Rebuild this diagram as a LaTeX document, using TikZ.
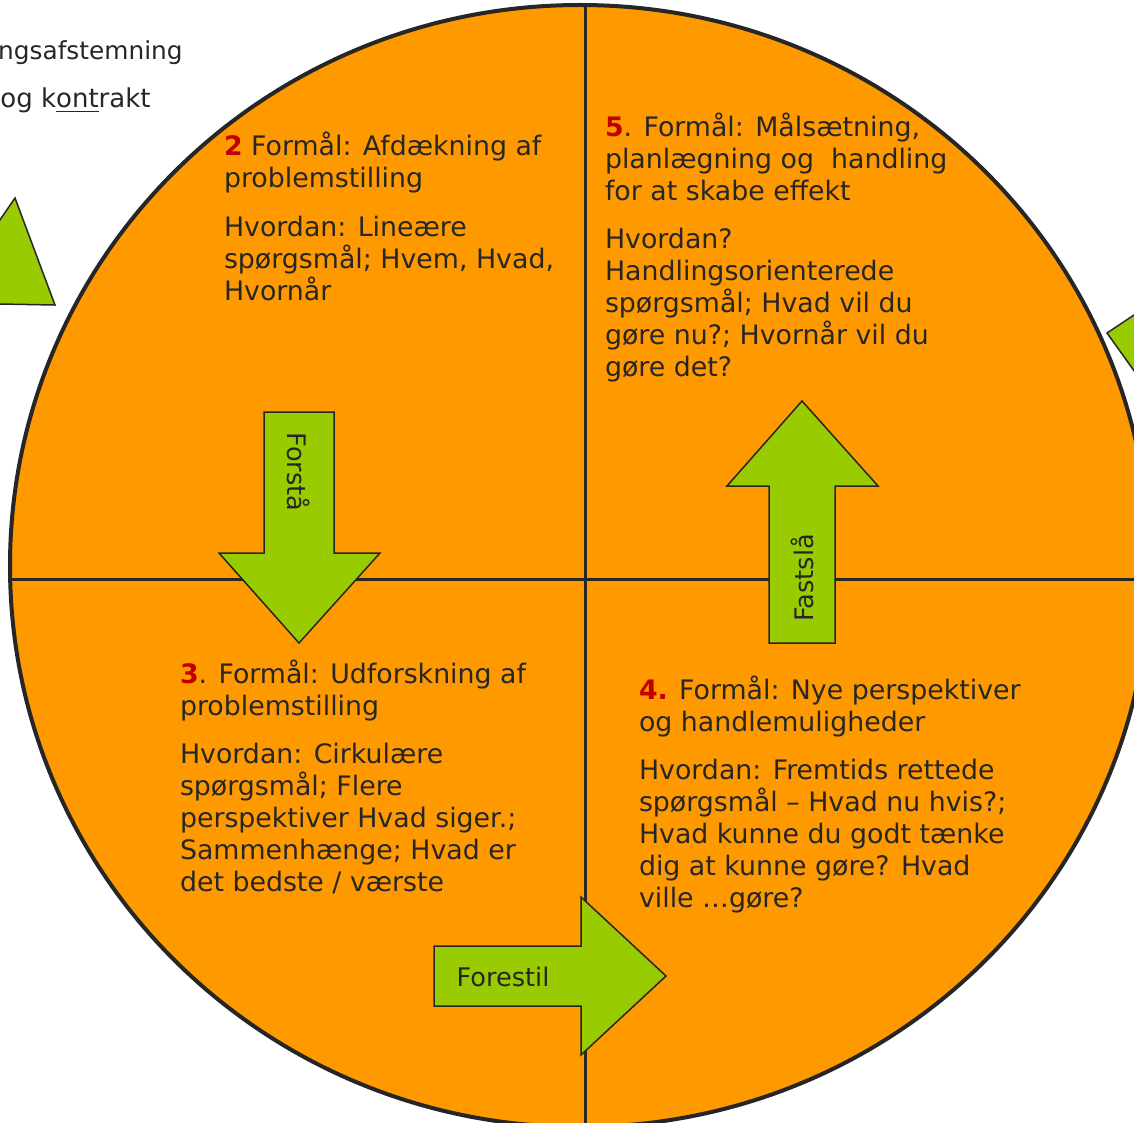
\documentclass[tikz,border=0pt]{standalone}
\usepackage{fontspec}
\setmainfont{DejaVu Sans}
\usetikzlibrary{positioning}
\definecolor{circorange}{HTML}{FF9900}
\definecolor{arrowgreen}{HTML}{99CC00}
\definecolor{numred}{HTML}{C00000}
\definecolor{inkgray}{HTML}{262626}
\newcommand{\stepnum}[1]{{\bfseries\color{numred}#1}}

\begin{document}
\begin{tikzpicture}[x=0.5pt,y=-0.5pt,
	txt/.style={font=\fontsize{13.4}{16}\selectfont,text=inkgray,align=left,anchor=base west,inner sep=0pt,outer sep=0pt},
	lbl/.style={font=\fontsize{12.8}{15}\selectfont,text=inkgray,inner sep=0pt,outer sep=0pt},
	blockarrow/.style={draw=inkgray,fill=arrowgreen,line width=0.75pt,line join=miter}]
	\useasboundingbox (0,0) rectangle (1134,1123);
	\clip (0,0) rectangle (1134,1123);

	\coordinate (ctr) at (580,566);
	\fill[circorange] (ctr) ellipse [x radius=570, y radius=561];
	\begin{scope}
		\clip (ctr) ellipse [x radius=570, y radius=561];
		\draw[line width=1.5pt,draw=inkgray] (0,579) -- (1134,579);
		\draw[line width=1.5pt,draw=inkgray] (585,0) -- (585,1123);
	\end{scope}
	\draw[line width=2pt,draw=inkgray] (ctr) ellipse [x radius=570, y radius=561];

	\node[font=\fontsize{12.4}{15}\selectfont,text=inkgray,anchor=base east,inner sep=0pt] (agree) at (183,60) {ngsafstemning};
	\node[font=\fontsize{13}{15}\selectfont,text=inkgray,anchor=base east,inner sep=0pt] (contract) at (151,108) {og k\underline{ont}rakt};

	\draw[blockarrow] (15,198) -- (55,305) -- (-57,303) -- cycle;
	\draw[blockarrow] (1107,333) -- (1200,271) -- (1200,463) -- cycle;

	\draw[blockarrow] (264,412) -- (334,412) -- (334,553) -- (380,553) -- (299,643) -- (219,553) -- (264,553) -- cycle;
	\node[lbl,rotate=-90] (forstaa) at (299,472) {Forstå};

	\draw[blockarrow] (769,643) -- (769,486) -- (727,486) -- (802,401) -- (878,486) -- (835,486) -- (835,643) -- cycle;
	\node[lbl,rotate=90] (fastslaa) at (802,578) {Fastslå};

	\draw[blockarrow] (434,946) -- (581,946) -- (581,897) -- (666,976) -- (581,1055) -- (581,1006) -- (434,1006) -- cycle;
	\node[lbl] (forestil) at (503,977) {Forestil};

	\node[txt] (blk2) at (224,300) {\stepnum{2} Formål: Afdækning af\\ problemstilling\\[8.5pt] Hvordan: Lineære\\ spørgsmål; Hvem, Hvad,\\ Hvornår};
	\node[txt] (blk5) at (605,376) {\stepnum{5}. Formål: Målsætning,\\ planlægning og\ \ handling\\ for at skabe effekt\\[8pt] Hvordan?\\ Handlingsorienterede\\ spørgsmål; Hvad vil du\\ gøre nu?; Hvornår vil du\\ gøre det?};
	\node[txt] (blk3) at (180,891) {\stepnum{3}. Formål: Udforskning af\\ problemstilling\\[8pt] Hvordan: Cirkulære\\ spørgsmål; Flere\\ perspektiver Hvad siger.;\\ Sammenhænge; Hvad er\\ det bedste / værste};
	\node[txt] (blk4) at (639,907) {\stepnum{4.} Formål: Nye perspektiver\\ og handlemuligheder\\[8pt] Hvordan: Fremtids rettede\\ spørgsmål – Hvad nu hvis?;\\ Hvad kunne du godt tænke\\ dig at kunne gøre? Hvad\\ ville …gøre?};
\end{tikzpicture}
\end{document}
